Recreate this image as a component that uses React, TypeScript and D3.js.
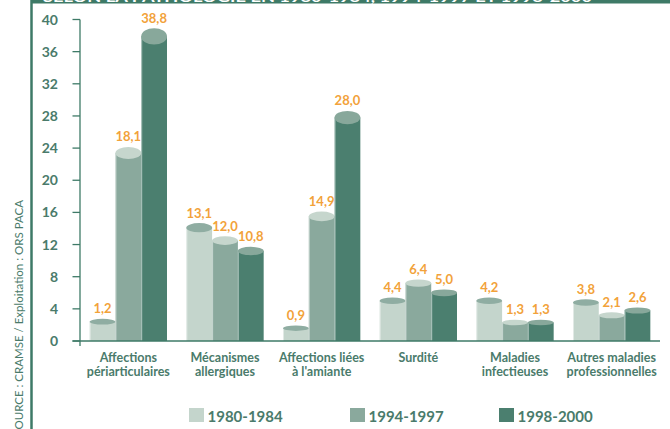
import React from "react";
import * as d3 from "d3";

const categories: string[][] = [
  ["Affections", "périarticulaires"],
  ["Mécanismes", "allergiques"],
  ["Affections liées", "à l'amiante"],
  ["Surdité"],
  ["Maladies", "infectieuses"],
  ["Autres maladies", "professionnelles"],
];
const seriesNames = ["1980-1984", "1994-1997", "1998-2000"];

// bar heights as drawn against the axis
const heights1980 = [2.4, 14.1, 1.6, 5.0, 5.0, 4.8];
const heights1994 = [23.4, 12.5, 15.5, 7.2, 2.3, 3.2];
const heights1998 = [37.9, 11.2, 27.8, 6.0, 2.3, 3.8];

// values printed above the bars
const labels1980 = ["1,2", "13,1", "0,9", "4,4", "4,2", "3,8"];
const labels1994 = ["18,1", "12,0", "14,9", "6,4", "1,3", "2,1"];
const labels1998 = ["38,8", "10,8", "28,0", "5,0", "1,3", "2,6"];

const yTicks = [0, 4, 8, 12, 16, 20, 24, 28, 32, 36, 40];

const title = "SELON LA PATHOLOGIE EN 1980-1984, 1994-1997 ET 1998-2000";
const source = "SOURCE : CRAMSE / Exploitation : ORS PACA";

const bodyColors = ["#c4d5cc", "#8aa99d", "#4b7f6f"];
const topColors = ["#8fada2", "#c6d6cd", "#88a89b"];
const teal = "#3e7a67";
const textTeal = "#4a7b6b";
const orange = "#f2a23a";
const font = "Lato, 'Open Sans', sans-serif";

export default function App() {
  const W = 670;
  const H = 429;
  const heights = [heights1980, heights1994, heights1998];
  const labels = [labels1980, labels1994, labels1998];

  const x = d3
    .scaleBand<number>()
    .domain(d3.range(categories.length))
    .range([80, 660])
    .paddingInner(0.2)
    .paddingOuter(0.1);
  const xi = d3
    .scaleBand<number>()
    .domain(d3.range(seriesNames.length))
    .range([0, x.bandwidth()]);
  const y = d3.scaleLinear().domain([0, 40]).range([341, 19.5]);

  const ry = (v: number) => 2.5 + 0.15 * v;
  const legendX = [189, 350, 499];

  return (
    <svg
      width={W}
      height={H}
      style={{ position: "absolute", left: 0, top: 0, background: "#fff" }}
      fontFamily={font}
    >
      {/* title band */}
      <rect x={31} y={-20} width={W - 31} height={23.5} fill={teal} />
      <text x={43} y={1.6} fill="#fff" fontWeight={700} fontSize={14} textLength={549} lengthAdjust="spacingAndGlyphs">
        {title}
      </text>
      {/* frame left line */}
      <line x1={31.5} x2={31.5} y1={0} y2={H} stroke={teal} strokeWidth={2.5} />
      {/* source */}
      <text
        transform={`translate(23,200) rotate(-90)`}
        textAnchor="end"
        fill={textTeal}
        fontSize={11.5}
      >
        {source}
      </text>

      {/* y axis */}
      <line x1={80} x2={80} y1={y(40)} y2={y(0) + 5} stroke={teal} strokeWidth={1.3} />
      {yTicks.map((t) => (
        <g key={t}>
          <line x1={72.5} x2={80} y1={y(t)} y2={y(t)} stroke={teal} strokeWidth={1.3} />
          <text
            x={58}
            y={y(t)}
            dy="0.36em"
            textAnchor="end"
            fill={textTeal}
            fontWeight={700}
            fontSize={14}
          >
            {t}
          </text>
        </g>
      ))}

      {/* bars */}
      {categories.map((_, ci) => (
        <g key={ci} transform={`translate(${x(ci)},0)`}>
          {seriesNames.map((_, si) => {
            const v = heights[si][ci];
            const bx = xi(si)!;
            const bw = xi.bandwidth();
            const top = y(v);
            const r = ry(v);
            return (
              <g key={si}>
                <rect x={bx} y={top} width={bw} height={y(0) - top} fill={bodyColors[si]} />
                <line x1={bx + 0.5} x2={bx + 0.5} y1={top} y2={y(0)} stroke="#fff" strokeOpacity={0.55} strokeWidth={0.9} />
                <ellipse cx={bx + bw / 2} cy={top} rx={bw / 2} ry={r} fill={topColors[si]} />
                <text
                  x={bx + bw / 2}
                  y={top - r - 5.5}
                  textAnchor="middle"
                  fill={orange}
                  fontWeight={700}
                  fontSize={13}
                >
                  {labels[si][ci]}
                </text>
              </g>
            );
          })}
        </g>
      ))}

      {/* baseline */}
      <line x1={72.5} x2={660} y1={y(0)} y2={y(0)} stroke={teal} strokeWidth={1.3} />

      {/* category labels */}
      {categories.map((lines, ci) => (
        <text
          key={ci}
          x={x(ci)! + x.bandwidth() / 2}
          y={362}
          textAnchor="middle"
          fill={textTeal}
          fontWeight={700}
          fontSize={12.5}
        >
          {lines.map((l, li) => (
            <tspan key={li} x={x(ci)! + x.bandwidth() / 2} dy={li === 0 ? 0 : 13.5}>
              {l}
            </tspan>
          ))}
        </text>
      ))}

      {/* legend */}
      {seriesNames.map((s, si) => (
        <g key={s}>
          <rect x={legendX[si]} y={408} width={15} height={14} fill={bodyColors[si]} />
          <text x={legendX[si] + 18.5} y={422} fill={textTeal} fontWeight={700} fontSize={15}>
            {s}
          </text>
        </g>
      ))}
    </svg>
  );
}
